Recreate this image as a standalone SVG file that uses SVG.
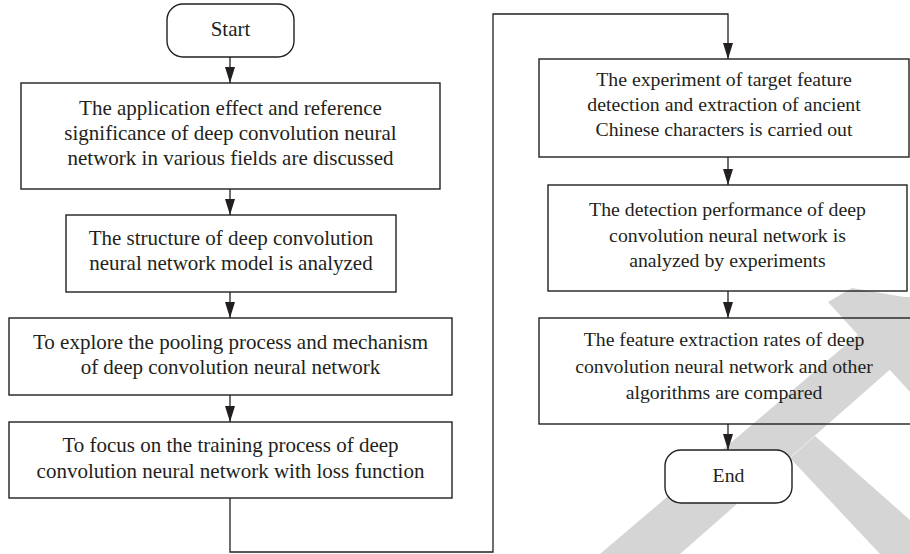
<svg xmlns="http://www.w3.org/2000/svg" width="910" height="554" viewBox="0 0 910 554">
<style>
  .box { fill: none; stroke: #231f20; stroke-width: 1.4; }
  .term { fill: #ffffff; stroke: #231f20; stroke-width: 1.4; }
  .txt { font-family: "Liberation Serif", "Times New Roman", serif; font-size: 21px; fill: #231f20; text-anchor: middle; }
  .rt { font-size: 19.8px; }
  .conn { fill: none; stroke: #231f20; stroke-width: 1.3; }
  .wm { fill: #d5d5d5; stroke: none; }
</style>
<defs>
  <marker id="arr" viewBox="0 0 16 10" refX="16" refY="5" markerWidth="16" markerHeight="10" markerUnits="userSpaceOnUse" orient="auto">
    <path d="M0,0 L16,5 L0,10 z" fill="#231f20"/>
  </marker>
</defs>
<rect width="910" height="554" fill="#ffffff"/>
<g id="watermark">
  <polygon class="wm" points="828,302 852,288 910,298 910,392"/>
  <polygon class="wm" points="902,297 910,297 910,352 680,554 600,554"/>
  <polygon class="wm" points="790,458 815,436 910,520 910,554 880,554"/>
</g>
<g id="connectors">
  <line class="conn" x1="230" y1="57" x2="230" y2="83" marker-end="url(#arr)"/>
  <line class="conn" x1="230" y1="189" x2="230" y2="215" marker-end="url(#arr)"/>
  <line class="conn" x1="230" y1="292" x2="230" y2="318" marker-end="url(#arr)"/>
  <line class="conn" x1="230" y1="395" x2="230" y2="422" marker-end="url(#arr)"/>
  <polyline class="conn" points="230,498 230,552 493,552 493,14 728,14 728,59" marker-end="url(#arr)"/>
  <line class="conn" x1="728" y1="157" x2="728" y2="185" marker-end="url(#arr)"/>
  <line class="conn" x1="728" y1="291" x2="728" y2="318" marker-end="url(#arr)"/>
  <line class="conn" x1="728" y1="424" x2="728" y2="450" marker-end="url(#arr)"/>
</g>
<g id="start">
  <rect class="term" x="167" y="4" width="127" height="53" rx="16"/>
  <text class="txt" x="230.5" y="36">Start</text>
</g>
<g id="step1">
  <rect class="box" x="21" y="83" width="419" height="106"/>
  <text class="txt" x="230.5" y="115">The application effect and reference</text>
  <text class="txt" x="230.5" y="140">significance of deep convolution neural</text>
  <text class="txt" x="230.5" y="165">network in various fields are discussed</text>
</g>
<g id="step2">
  <rect class="box" x="66" y="215" width="330" height="77"/>
  <text class="txt" x="231" y="245">The structure of deep convolution</text>
  <text class="txt" x="231" y="270">neural network model is analyzed</text>
</g>
<g id="step3">
  <rect class="box" x="9" y="318" width="443" height="77"/>
  <text class="txt" x="230.5" y="349">To explore the pooling process and mechanism</text>
  <text class="txt" x="230.5" y="374">of deep convolution neural network</text>
</g>
<g id="step4">
  <rect class="box" x="9" y="422" width="443" height="76"/>
  <text class="txt" x="230.5" y="452">To focus on the training process of deep</text>
  <text class="txt" x="230.5" y="478">convolution neural network with loss function</text>
</g>
<g id="step5">
  <rect class="box" x="539" y="59" width="370" height="98"/>
  <text class="txt rt" x="724" y="86">The experiment of target feature</text>
  <text class="txt rt" x="724" y="111">detection and extraction of ancient</text>
  <text class="txt rt" x="724" y="136">Chinese characters is carried out</text>
</g>
<g id="step6">
  <rect class="box" x="548" y="185" width="359" height="106"/>
  <text class="txt rt" x="727.5" y="216">The detection performance of deep</text>
  <text class="txt rt" x="727.5" y="242">convolution neural network is</text>
  <text class="txt rt" x="727.5" y="267">analyzed by experiments</text>
</g>
<g id="step7">
  <rect class="box" x="539" y="318" width="375" height="106"/>
  <text class="txt rt" x="724" y="346">The feature extraction rates of deep</text>
  <text class="txt rt" x="724" y="373">convolution neural network and other</text>
  <text class="txt rt" x="724" y="399">algorithms are compared</text>
</g>
<g id="end">
  <rect class="term" x="665" y="450" width="127" height="53" rx="16"/>
  <text class="txt rt" x="728.5" y="482">End</text>
</g>
</svg>
